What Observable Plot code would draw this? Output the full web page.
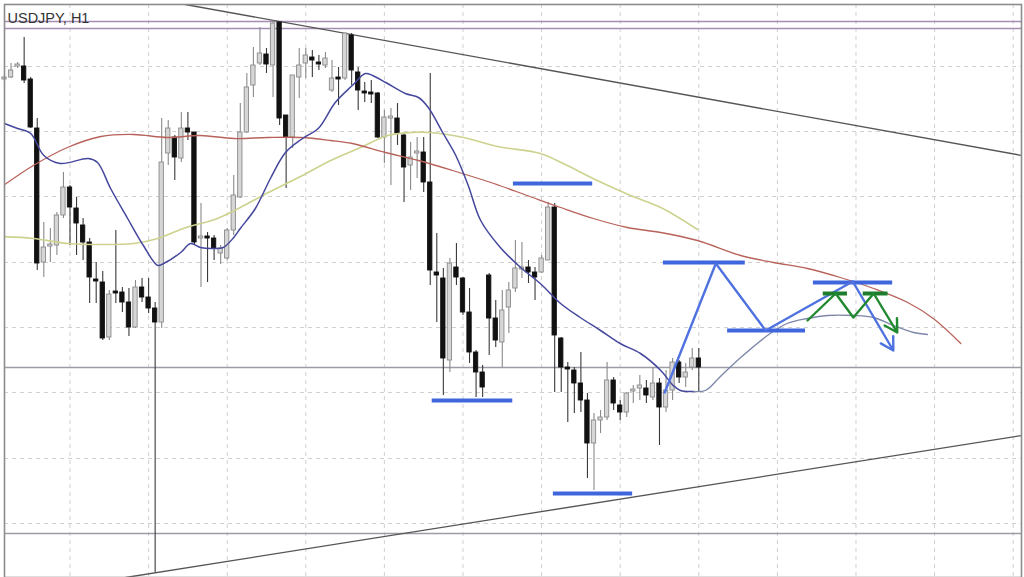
<!DOCTYPE html>
<html><head><meta charset="utf-8">
<script src="https://cdn.jsdelivr.net/npm/d3@7"></script>
<script src="https://cdn.jsdelivr.net/npm/@observablehq/plot@0.6"></script>
<style>body{margin:0;background:#fff;} svg{display:block}</style>
</head><body><div id="chart"></div>
<script>
const title = "USDJPY, H1";
// Candles (bar index = position in arrays), prices
const open  = [119.21,119.23,119.34,119.34,119.21,118.72,117.38,117.54,117.55,117.85,118.13,117.92,117.75,117.58,117.21,117.18,116.63,117.09,117.08,116.98,116.73,117.13,117.03,116.92,116.78,118.47,118.63,118.42,118.72,118.68,117.62,117.64,117.62,117.47,117.42,117.70,118.03,118.68,119.15,119.37,119.46,119.35,119.78,118.85,118.63,119.23,119.37,119.43,119.38,119.35,119.10,119.23,119.22,119.65,119.28,119.09,119.08,119.07,118.63,118.82,118.82,118.65,118.35,118.47,118.48,118.18,117.28,117.22,116.40,117.33,117.22,116.88,116.48,116.28,117.25,116.82,116.58,116.93,117.12,117.31,117.33,117.28,117.28,117.40,117.93,116.62,116.33,116.30,116.17,116.00,115.57,115.80,115.83,116.20,115.95,115.88,116.09,116.12,116.12,116.03,116.17,115.93,116.10,116.38,116.23,116.33,116.42];
const high  = [119.26,119.37,119.38,119.63,119.23,118.82,117.78,117.72,117.88,118.28,118.15,118.03,117.82,117.62,117.38,117.29,117.10,117.70,117.13,117.12,117.20,117.22,117.22,116.98,118.82,118.80,118.65,118.88,118.88,118.68,117.97,117.68,117.65,117.55,117.72,118.25,118.97,119.27,119.53,119.73,119.52,119.80,119.78,118.85,119.25,119.52,119.52,119.50,119.45,119.48,119.40,119.33,119.67,119.67,119.33,119.18,119.20,119.08,118.90,118.92,118.97,118.67,118.58,118.63,118.63,119.27,117.67,117.32,117.42,117.57,117.23,117.12,116.50,116.35,117.27,117.00,117.10,117.18,117.60,117.58,117.40,117.33,117.45,117.98,117.97,116.63,116.38,116.33,116.48,116.07,115.87,115.90,116.38,116.23,116.00,116.08,116.15,116.25,116.20,116.33,116.22,116.30,116.42,116.40,116.37,116.52,116.52];
const low   = [119.18,119.22,119.32,119.17,118.72,117.30,117.23,117.38,117.45,117.82,117.55,117.45,117.40,116.97,116.97,116.60,116.60,116.97,116.88,116.64,116.72,116.98,116.87,114.28,116.72,118.35,118.20,118.38,118.60,117.55,117.13,117.18,117.40,117.36,117.40,117.65,118.02,118.67,119.03,119.35,119.27,119.03,118.75,118.12,118.52,119.02,119.22,119.23,119.30,119.32,119.08,118.95,119.20,119.15,118.90,118.98,118.97,118.62,118.37,118.15,118.55,117.98,118.10,118.22,118.08,117.15,116.78,116.05,116.28,117.15,116.85,116.37,116.03,116.03,116.45,116.53,116.33,116.67,117.08,117.22,117.17,117.00,117.27,117.40,116.08,116.08,115.78,115.87,115.88,115.22,115.10,115.67,115.80,115.90,115.80,115.83,115.97,116.00,115.97,116.00,115.55,115.88,116.00,116.17,116.13,116.30,116.08];
const close = [119.23,119.30,119.36,119.20,118.73,117.37,117.53,117.56,117.85,118.13,117.93,117.77,117.58,117.23,117.19,116.62,117.06,117.07,116.98,116.73,117.13,117.03,116.92,116.78,118.38,118.72,118.43,118.72,118.68,117.58,117.64,117.62,117.52,117.52,117.70,118.05,118.68,119.13,119.35,119.47,119.36,119.77,118.82,118.63,119.25,119.35,119.45,119.40,119.36,119.42,119.22,119.21,119.67,119.30,119.10,119.07,119.06,118.63,118.83,118.84,118.67,118.33,118.43,118.49,118.18,117.30,117.25,116.42,117.37,117.23,116.88,116.48,116.28,116.13,116.82,116.60,116.90,117.10,117.32,117.33,117.28,117.23,117.42,117.93,116.65,116.33,116.31,116.17,116.00,115.57,115.80,115.83,116.20,115.97,115.88,116.07,116.11,116.15,116.05,116.17,115.93,116.10,116.38,116.23,116.28,116.42,116.33];

// Moving averages
const blueX = [0,2,4,6,8.5,12.8,14.2,16.2,18.8,21.2,23.4,24.3,26.9,28.4,29.9,31.9,33.4,35,36,38.3,40.6,42.9,45.5,47.9,50.5,53.1,55.1,56.2,58.2,61.2,63.2,64.7,66.9,68.9,70.8,72.7,75.7,78.8,81.8,84.9,87.9,91,94,97.1,100.2,102.1,103.2,105.2];
const blueY = [118.77,118.72,118.67,118.45,118.37,118.42,118.38,118.12,117.82,117.55,117.35,117.37,117.48,117.57,117.53,117.52,117.53,117.63,117.72,117.92,118.22,118.48,118.62,118.72,118.98,119.15,119.27,119.25,119.18,119.07,119.03,118.93,118.68,118.45,118.15,117.80,117.53,117.33,117.17,116.97,116.83,116.70,116.57,116.47,116.30,116.15,116.10,116.09];
const blueExtX = [105.2,107,109.3,112.4,116.9,119.5,122.6,125.6,129.6,132.7,135.7,138.8,140.9];
const blueExtY = [116.09,116.10,116.24,116.43,116.67,116.77,116.82,116.85,116.85,116.83,116.75,116.68,116.66];
const redX = [-0.6,4.4,9.6,14.7,19.7,24.9,29.9,35,40.2,45.2,49.8,53.1,58.2,63.2,68.4,74.7,79.8,84.9,89.9,95.1,100.2,105.8,112.4,117.4,122.6,127.6,132.7,137.9,141.8,146];
const redY = [118.13,118.35,118.53,118.64,118.66,118.63,118.65,118.62,118.63,118.63,118.60,118.57,118.48,118.40,118.30,118.17,118.05,117.93,117.82,117.73,117.68,117.60,117.45,117.38,117.32,117.23,117.12,116.98,116.82,116.57];
const yelX = [-0.6,4.4,9.6,14.7,19.7,23.4,27.3,32.5,36,40.3,45.5,49.8,54.7,58.5,62,65,70.1,75.3,81.8,85.3,90.5,95.6,100.2,105.8];
const yelY = [117.64,117.62,117.57,117.56,117.57,117.62,117.72,117.82,117.93,118.08,118.25,118.40,118.54,118.65,118.68,118.68,118.63,118.54,118.47,118.37,118.20,118.05,117.93,117.71];

// Grid, levels, trendlines
const gridX = [10,22,34,46,58,70,82,94,106,118,130,142,154];
const gridY = [119.34,118.69,118.04,117.38,116.73,116.08,115.42,114.77];
const purpleLevels = [119.79,119.72];
const grayLevels = [116.33,114.67];
const trendDownX = [27.6,155.3], trendDownY = [119.96,118.45];
const trendUpX = [18.5,155.3], trendUpY = [114.23,115.65];

// Hand-drawn annotations
const annoLevel = [118.17,116.00,115.07,117.38,116.70,117.18];
const annoStart = [77.7,65.3,83.8,100.6,110.4,123.5];
const annoEnd   = [89.8,77.6,95.9,113.1,122.3,135.6];
const zigX = [100.8,108.6,116.2,129.5,135.7];
const zigY = [116.08,117.37,116.70,117.19,116.50];
const greenLevel = [117.07,117.07];
const greenStart = [125.0,131.1];
const greenEnd   = [128.7,134.9];
const gX = [122.6,126.9,129.6,132.7,136.3];
const gY = [116.80,117.07,116.83,117.07,116.68];

const candles = open.map((o,i)=>({i, open:o, high:high[i], low:low[i], close:close[i]}));
const isBull = d => d.close >= d.open;
const pts = (xs, ys) => xs.map((x,k)=>({x, y: ys[k]}));
const segs = (lv, s, e) => lv.map((y,k)=>({x1:s[k], x2:e[k], y}));
const lastSeg = (xs, ys) => [{x1:xs[xs.length-2], y1:ys[ys.length-2], x2:xs[xs.length-1], y2:ys[ys.length-1]}];
const annoSegs = segs(annoLevel, annoStart, annoEnd);
const greenSegs = segs(greenLevel, greenStart, greenEnd);

const chart = Plot.plot({
  width:1024, height:577,
  marginLeft:4, marginTop:4, marginRight:3, marginBottom:0,
  x:{domain:[0,155.27], axis:null},
  y:{domain:[114.23,119.96], axis:null},
  style:{background:"#fff", fontFamily:"'Liberation Sans', Arial, sans-serif"},
  marks:[
    Plot.ruleX(gridX, {stroke:"#d0d0d0", strokeDasharray:"4,4", strokeWidth:1}),
    Plot.ruleY(gridY, {stroke:"#d0d0d0", strokeDasharray:"4,4", strokeWidth:1}),
    Plot.ruleY(purpleLevels, {stroke:"#a58db4", strokeWidth:1.6}),
    Plot.ruleY(grayLevels, {stroke:"#9c9ca6", strokeWidth:1.6}),
    Plot.line(pts(trendDownX, trendDownY), {x:"x", y:"y", stroke:"#555", strokeWidth:1.4, clip:true}),
    Plot.line(pts(trendUpX, trendUpY), {x:"x", y:"y", stroke:"#555", strokeWidth:1.4, clip:true}),
    Plot.ruleX(candles, {filter:isBull, x:"i", y1:"low", y2:"high", stroke:"#8a8a8a", strokeWidth:1.1}),
    Plot.ruleX(candles, {filter:d=>!isBull(d), x:"i", y1:"low", y2:"high", stroke:"#3a3a3a", strokeWidth:1.1}),
    Plot.rect(candles, {filter:isBull, x1:d=>d.i-0.33, x2:d=>d.i+0.33, y1:"open", y2:"close", fill:"#d6d6d6", stroke:"#8a8a8a", strokeWidth:0.9}),
    Plot.rect(candles, {filter:d=>!isBull(d), x1:d=>d.i-0.33, x2:d=>d.i+0.33, y1:"open", y2:"close", fill:"#111", stroke:"#111", strokeWidth:0.9}),
    Plot.line(pts(yelX, yelY), {x:"x", y:"y", stroke:"#cdd28e", strokeWidth:1.6, curve:"catmull-rom", clip:true}),
    Plot.line(pts(redX, redY), {x:"x", y:"y", stroke:"#b8625a", strokeWidth:1.3, curve:"catmull-rom", clip:true}),
    Plot.line(pts(blueX, blueY), {x:"x", y:"y", stroke:"#45479c", strokeWidth:1.5, curve:"catmull-rom", clip:true}),
    Plot.line(pts(blueExtX, blueExtY), {x:"x", y:"y", stroke:"#7c86a8", strokeWidth:1.3, curve:"catmull-rom"}),
    Plot.ruleY(annoSegs, {x1:"x1", x2:"x2", y:"y", stroke:"#3f66dc", strokeWidth:4}),
    Plot.line(pts(zigX.slice(0,-1), zigY.slice(0,-1)), {x:"x", y:"y", stroke:"#4f72e0", strokeWidth:2.4}),
    Plot.arrow(lastSeg(zigX, zigY), {x1:"x1", y1:"y1", x2:"x2", y2:"y2", stroke:"#4f72e0", strokeWidth:2.4, headLength:9}),
    Plot.ruleY(greenSegs, {x1:"x1", x2:"x2", y:"y", stroke:"#1d7d2c", strokeWidth:4}),
    Plot.line(pts(gX.slice(0,-1), gY.slice(0,-1)), {x:"x", y:"y", stroke:"#21892f", strokeWidth:2.4}),
    Plot.arrow(lastSeg(gX, gY), {x1:"x1", y1:"y1", x2:"x2", y2:"y2", stroke:"#21892f", strokeWidth:2.4, headLength:9}),
    Plot.text([title], {frameAnchor:"top-left", dx:3, dy:8, fontSize:14.5, fill:"#333"}),
    Plot.frame({stroke:"#8c8c8c", strokeWidth:1.6})
  ]
});
document.getElementById("chart").append(chart);
</script>
</body></html>
